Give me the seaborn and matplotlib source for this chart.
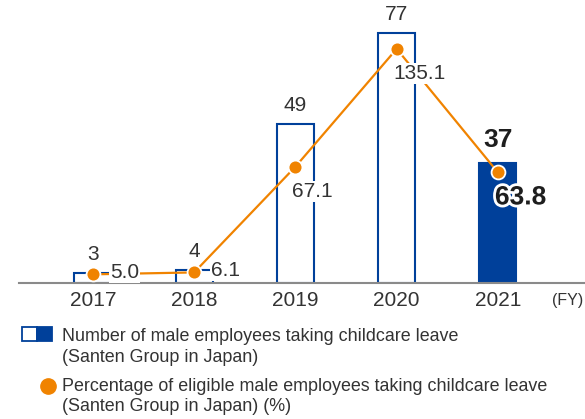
import numpy as np
import matplotlib
matplotlib.use("Agg")
import matplotlib.pyplot as plt
import matplotlib.patheffects as pe
from matplotlib.patches import Rectangle
from matplotlib.lines import Line2D
import seaborn as sns

# Data
years = ["2017", "2018", "2019", "2020", "2021"]
leave_counts = [3, 4, 49, 77, 37]
leave_rates = [5.0, 6.1, 67.1, 135.1, 63.8]

legend_bar_lines = ["Number of male employees taking childcare leave",
                    "(Santen Group in Japan)"]
legend_rate_lines = ["Percentage of eligible male employees taking childcare leave",
                     "(Santen Group in Japan) (%)"]
unit_label = "(FY)"

BLUE = "#00409a"
ORANGE = "#f08300"
TEXT = "#333333"
DARK = "#1e1e1e"
AXIS_GREY = "#8a8a8a"

sns.set_theme(style="white")
plt.rcParams["font.family"] = ["Liberation Sans", "DejaVu Sans"]

W, H = 585, 419
fig = plt.figure(figsize=(W / 100, H / 100), dpi=100)
fig.patch.set_facecolor("white")

# plot area: baseline at y=283 px, left edge at x=19 px
ax_left, ax_right, ax_base, ax_top = 19, 585, 283, 10
ax = fig.add_axes([ax_left / W, 1 - ax_base / H,
                   (ax_right - ax_left) / W, (ax_base - ax_top) / H])

sns.barplot(x=years, y=leave_counts, ax=ax, width=0.365, color=BLUE,
            saturation=1, errorbar=None)
last = len(years) - 1
for i, bar in enumerate(ax.patches):
    bar.set_edgecolor(BLUE)
    bar.set_linewidth(1.5)
    bar.set_facecolor(BLUE if i == last else "white")

ax.set_ylim(0, (ax_base - ax_top) / 3.247)

# count labels above bars
for i, v in enumerate(leave_counts):
    hl = i == last
    ax.annotate(f"{v}", (i, v), xytext=(0, 9 if not hl else 11),
                textcoords="offset pixels", ha="center", va="bottom",
                fontsize=19 if hl else 15, fontweight="bold" if hl else "normal",
                color=DARK if hl else TEXT)

# percentage line on a second scale
ax2 = ax.twinx()
sns.lineplot(x=np.arange(len(years)), y=leave_rates, ax=ax2, color=ORANGE,
             linewidth=1.6, marker="o", markersize=10, markerfacecolor=ORANGE,
             markeredgecolor="white", markeredgewidth=1.3)
ax2.set_ylim(0, (ax_base - ax_top) / 1.733)

for i, v in enumerate(leave_rates):
    hl = i == last
    if v < 20:
        off = (17, 2)
    else:
        off = (-3, -25)
    kw = dict(fontsize=19 if hl else 15, fontweight="bold" if hl else "normal",
              color=DARK if hl else TEXT)
    if hl:
        kw["path_effects"] = [pe.withStroke(linewidth=4, foreground="white")]
    else:
        kw["bbox"] = dict(boxstyle="square,pad=0.05", fc="white", ec="none")
    ax2.annotate(f"{v:.1f}", (i, v), xytext=off, textcoords="offset pixels",
                 ha="left", va="center", **kw)

for a in (ax, ax2):
    for s in ("top", "right", "left"):
        a.spines[s].set_visible(False)
    a.set_yticks([])
    a.set_ylabel("")
ax2.spines["bottom"].set_visible(False)
ax.spines["bottom"].set_color(AXIS_GREY)
ax.spines["bottom"].set_linewidth(1.5)

ax.set_xlim(-0.73, 4.86)
ax.set_xticks(range(len(years)))
ax.set_xticklabels(years, fontsize=15, color=TEXT)
ax.tick_params(axis="x", length=0, pad=6)
ax.set_xlabel("")

fig.text(583 / W, 1 - 300 / H, unit_label, ha="right", va="center",
         fontsize=11.5, color=TEXT)

# legend, drawn in figure pixels
def fx(x):
    return x / W


def fy(y):
    return 1 - y / H


fig.add_artist(Rectangle((fx(22), fy(341)), fx(15), 14 / H, transform=fig.transFigure,
                         fc="white", ec=BLUE, lw=1.3))
fig.add_artist(Rectangle((fx(37), fy(341)), fx(15), 14 / H, transform=fig.transFigure,
                         fc=BLUE, ec=BLUE, lw=1.3))
fig.add_artist(Line2D([fx(48)], [fy(386)], transform=fig.transFigure, marker="o",
                      markersize=11, color=ORANGE, linestyle="none"))

for txt, yb in zip(legend_bar_lines, (341, 362)):
    fig.text(fx(62), fy(yb), txt, ha="left", va="baseline", fontsize=12.9, color=TEXT)
for txt, yb in zip(legend_rate_lines, (391, 411)):
    fig.text(fx(62), fy(yb), txt, ha="left", va="baseline", fontsize=12.9, color=TEXT)

fig.savefig("out.png", dpi=100, facecolor="white")
